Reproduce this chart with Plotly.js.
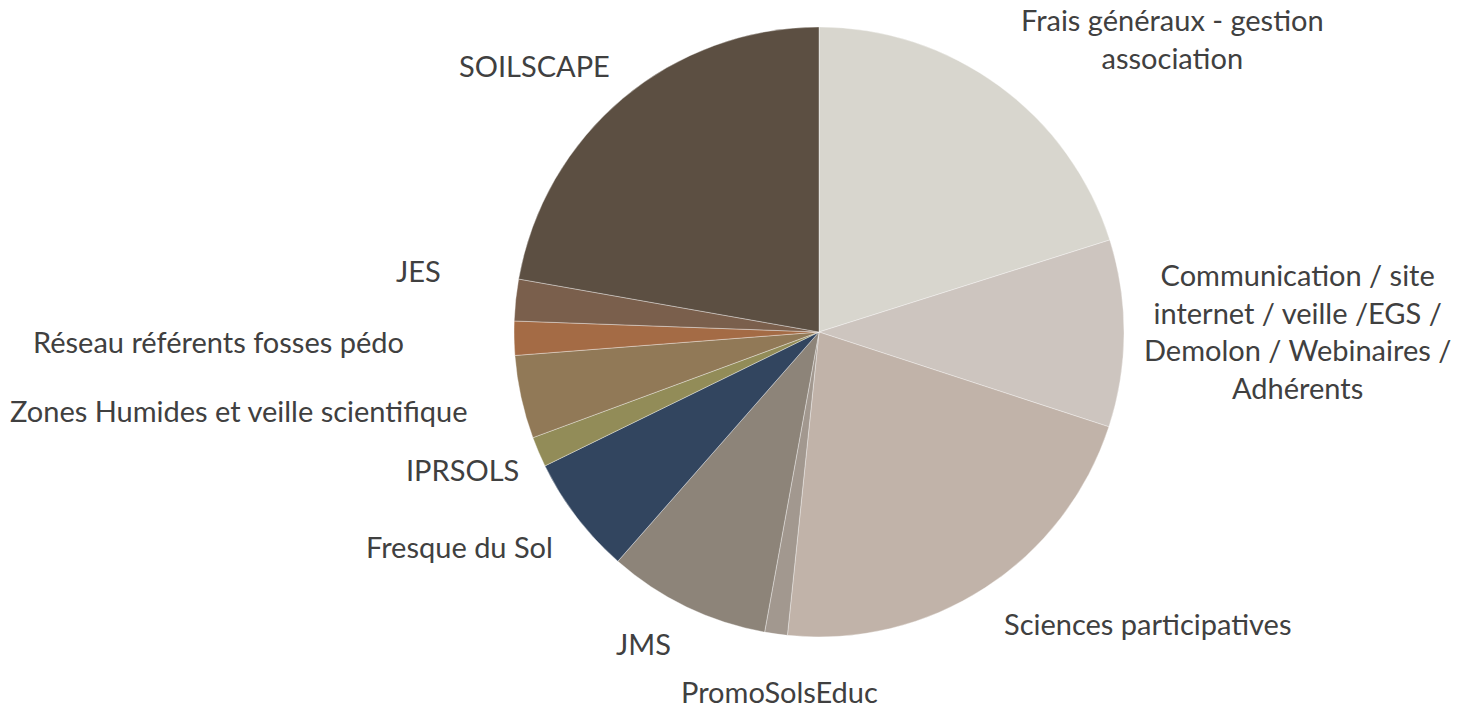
<!DOCTYPE html>
<html>
<head>
<meta charset="utf-8">
<script src="https://cdn.plot.ly/plotly-3.0.1.min.js"></script>
<style>html,body{margin:0;padding:0;background:#fff;}#chart{width:1464px;height:711px;}</style>
</head>
<body>
<div id="chart"></div>
<script>
// Data (share of budget)
const categories = [
  "Frais généraux - gestion<br>association",
  "Communication / site<br>internet / veille /EGS /<br>Demolon / Webinaires /<br>Adhérents",
  "Sciences participatives",
  "PromoSolsEduc",
  "JMS",
  "Fresque du Sol",
  "IPRSOLS",
  "Zones Humides et veille scientifique",
  "Réseau référents fosses pédo",
  "JES",
  "SOILSCAPE"
];
const values = [20.1, 9.9, 21.6, 1.2, 8.6, 6.3, 1.6, 4.4, 1.8, 2.2, 22.2];
const colors = ["#d8d6ce", "#cdc5bf", "#c1b3a9", "#a2988f", "#8d8479", "#32455f",
                "#928c58", "#917957", "#a46b45", "#7a5f4c", "#5c4f42"];

// Label anchor points in pixels (layout only)
const labelPos = [
  [1172, 38], [1297, 331], [1148, 623], [779, 691], [643, 643],
  [459, 546], [462, 470], [239, 410], [218, 341], [418, 270], [534, 65]
];

const W = 1464, H = 711;
const cx = 819, cy = 332, r = 305;

const trace = {
  type: "pie",
  labels: categories,
  values: values,
  sort: false,
  direction: "clockwise",
  rotation: 0,
  textinfo: "none",
  hoverinfo: "label+percent",
  marker: {colors: colors, line: {color: "rgba(255,255,255,0.45)", width: 0.8}},
  domain: {x: [(cx - r) / W, (cx + r) / W], y: [1 - (cy + r) / H, 1 - (cy - r) / H]},
  showlegend: false
};

const annotations = categories.map((c, i) => ({
  text: c,
  xref: "paper", yref: "paper",
  x: labelPos[i][0] / W, y: 1 - labelPos[i][1] / H,
  xanchor: "center", yanchor: "middle",
  showarrow: false,
  align: "center",
  borderpad: 0,
  font: {family: "Lato, 'Open Sans', sans-serif", size: 29, color: "#404040"}
}));

Plotly.newPlot("chart", [trace], {
  width: W, height: H,
  margin: {l: 0, r: 0, t: 0, b: 0},
  paper_bgcolor: "#ffffff",
  annotations: annotations
}, {displayModeBar: false, staticPlot: true});
</script>
</body>
</html>
